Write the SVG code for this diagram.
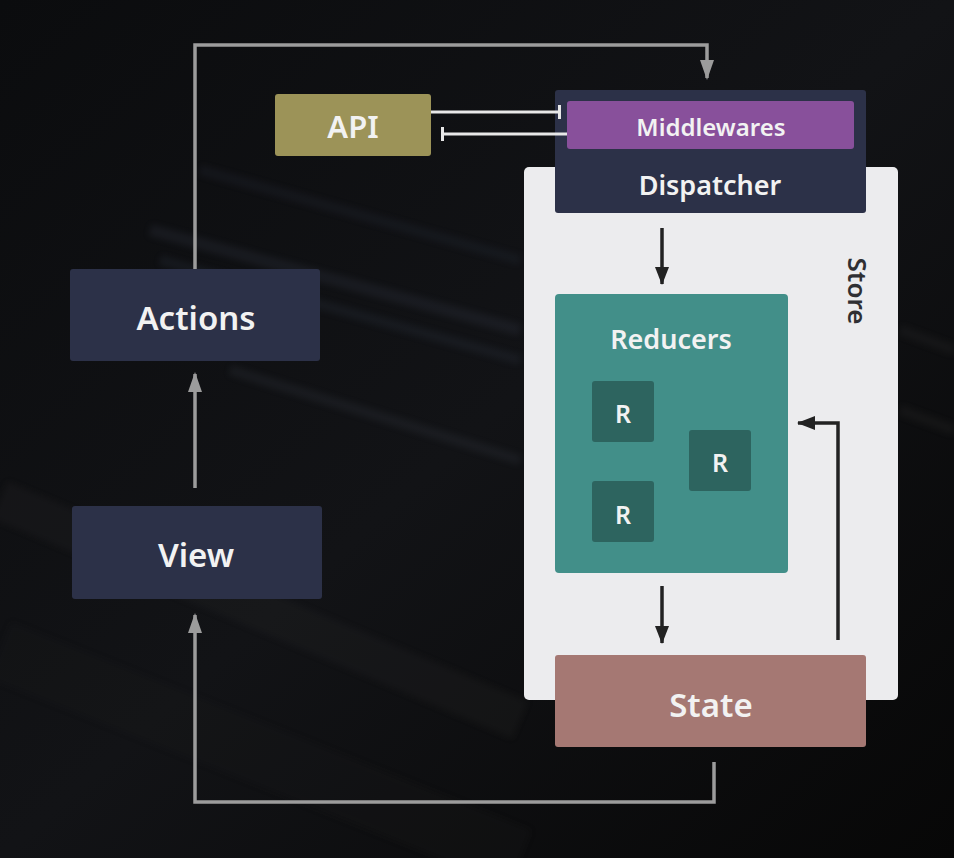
<svg xmlns="http://www.w3.org/2000/svg" width="954" height="858" viewBox="0 0 954 858">
<defs>
<style>
.lbl{font-family:"Noto Sans","Open Sans","Liberation Sans",sans-serif;font-weight:600;fill:#f2f2f2;text-anchor:middle;dominant-baseline:central}
.navy{fill:#2c3148}
.gray{fill:none;stroke:#9c9c9c;stroke-width:3.5}
.dark{fill:none;stroke:#222;stroke-width:3.5}
.wht{fill:none;stroke:#e8e8e8;stroke-width:3}
</style>
<linearGradient id="bg" x1="0" y1="0" x2="1" y2="1">
<stop offset="0" stop-color="#0b0c0e"/>
<stop offset="0.5" stop-color="#121316"/>
<stop offset="1" stop-color="#070707"/>
</linearGradient>
<filter id="blur"><feGaussianBlur stdDeviation="3"/></filter>
<marker id="ag" markerWidth="20" markerHeight="14" refX="18" refY="7" orient="auto" markerUnits="userSpaceOnUse" viewBox="0 0 20 14"><path d="M0,0 L20,7 L0,14 Z" fill="#9c9c9c"/></marker>
<marker id="ad" markerWidth="18" markerHeight="14" refX="17" refY="7" orient="auto" markerUnits="userSpaceOnUse" viewBox="0 0 18 14"><path d="M0,0 L18,7 L0,14 Z" fill="#222"/></marker>
<marker id="bar" markerWidth="4" markerHeight="14" refX="2" refY="7" orient="auto" markerUnits="userSpaceOnUse" viewBox="0 0 4 14"><rect x="0" y="0" width="3" height="14" fill="#e8e8e8"/></marker>
</defs>
<rect width="954" height="858" fill="url(#bg)"/>
<g filter="url(#blur)" opacity="0.22">
<path d="M150,230 L520,330" stroke="#3a4050" stroke-width="12"/>
<path d="M160,260 L520,360" stroke="#333a48" stroke-width="10"/>
<path d="M230,370 L520,460" stroke="#3a3f4a" stroke-width="10"/>
<path d="M200,170 L520,260" stroke="#2c3240" stroke-width="10"/>
<path d="M0,500 L520,720" stroke="#2a2a2a" stroke-width="40"/>
<path d="M0,650 L520,858" stroke="#1c1c1c" stroke-width="60"/>
<path d="M900,330 L954,350" stroke="#333" stroke-width="10"/>
<path d="M900,410 L954,430" stroke="#333" stroke-width="10"/>
</g>
<g id="store">
<rect x="524" y="167" width="374" height="533" rx="5" fill="#ececee"/>
<text x="858" y="291" class="lbl" style="fill:#2f2f33;font-size:26px" transform="rotate(90 858 291)">Store</text>
</g>
<g id="dispatcher">
<rect x="555" y="90" width="311" height="123" rx="3" class="navy"/>
<text x="710" y="184" class="lbl" style="font-size:27px">Dispatcher</text>
</g>
<g id="middlewares">
<rect x="567" y="101" width="287" height="48" rx="3" fill="#88509b"/>
<text x="711" y="126" class="lbl" style="font-size:24px">Middlewares</text>
</g>
<g id="api">
<rect x="275" y="94" width="156" height="62" rx="3" fill="#9c9358"/>
<text x="353" y="126" class="lbl" style="font-size:31px">API</text>
</g>
<g id="actions">
<rect x="70" y="269" width="250" height="92" rx="3" class="navy"/>
<text x="196" y="317" class="lbl" style="font-size:33px">Actions</text>
</g>
<g id="view">
<rect x="72" y="506" width="250" height="93" rx="3" class="navy"/>
<text x="196" y="554" class="lbl" style="font-size:33px">View</text>
</g>
<g id="reducers">
<rect x="555" y="294" width="233" height="279" rx="4" fill="#428f89"/>
<text x="671" y="338" class="lbl" style="font-size:27px">Reducers</text>
</g>
<g id="r1">
<rect x="592" y="381" width="62" height="61" rx="3" fill="#2d645f"/>
<text x="623" y="413" class="lbl" style="font-size:25px">R</text>
</g>
<g id="r2">
<rect x="689" y="430" width="62" height="61" rx="3" fill="#2d645f"/>
<text x="720" y="462" class="lbl" style="font-size:25px">R</text>
</g>
<g id="r3">
<rect x="592" y="481" width="62" height="61" rx="3" fill="#2d645f"/>
<text x="623" y="514" class="lbl" style="font-size:25px">R</text>
</g>
<g id="state">
<rect x="555" y="655" width="311" height="92" rx="3" fill="#a57873"/>
<text x="711" y="704" class="lbl" style="font-size:33px">State</text>
</g>
<g id="connectors">
<path d="M195,269 V45 H707 V78" class="gray" marker-end="url(#ag)"/>
<path d="M195,488 V374" class="gray" marker-end="url(#ag)"/>
<path d="M714,762 V802 H195 V615" class="gray" marker-end="url(#ag)"/>
<path d="M431,112 H560" class="wht" marker-end="url(#bar)"/>
<path d="M567,134 H442" class="wht" marker-end="url(#bar)"/>
<path d="M662,228 V284" class="dark" marker-end="url(#ad)"/>
<path d="M662,586 V643" class="dark" marker-end="url(#ad)"/>
<path d="M838,640 V423 H798" class="dark" marker-end="url(#ad)"/>
</g>
</svg>
